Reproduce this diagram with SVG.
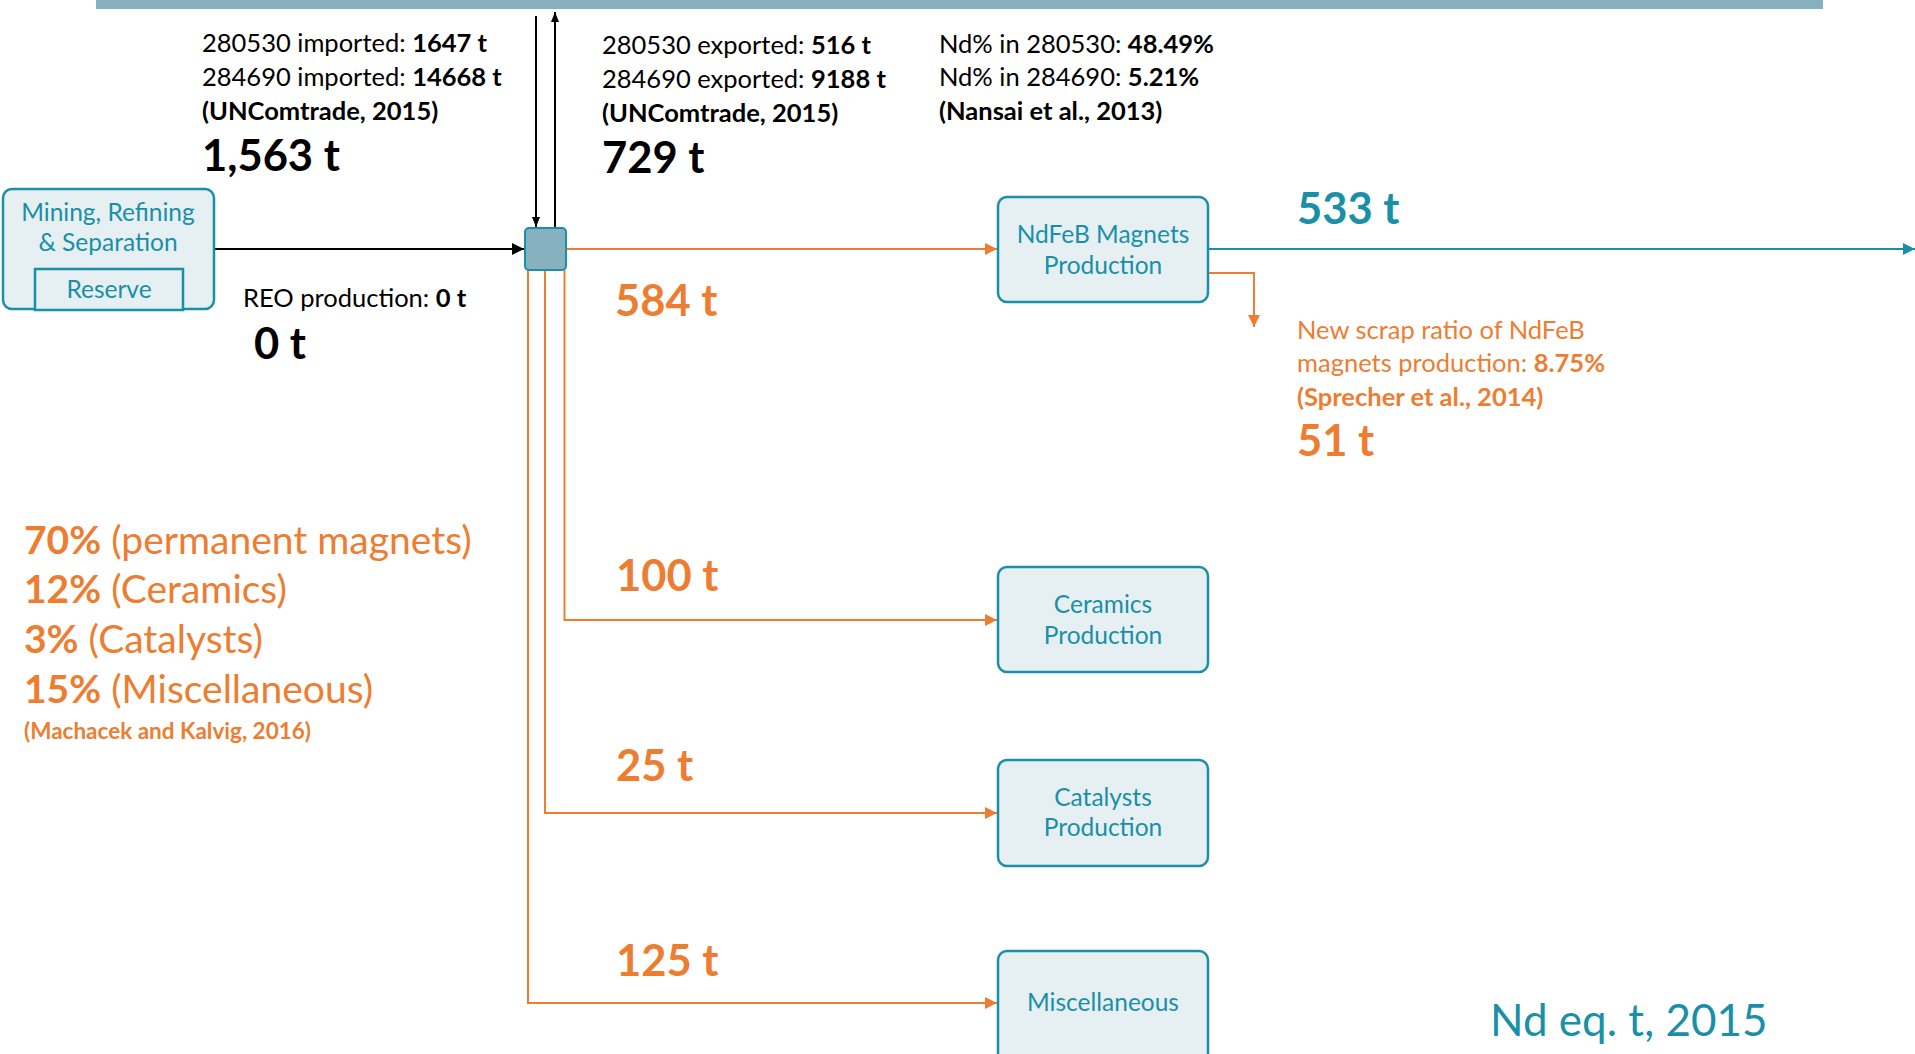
<svg xmlns="http://www.w3.org/2000/svg" width="1915" height="1054" viewBox="0 0 1915 1054">
<defs>
<style>
.t{font-family:Lato,"Open Sans","Liberation Sans",sans-serif}
.sm{font-size:25.5px;fill:#000}
.big{font-size:43.5px;font-weight:bold}
.b{font-weight:bold}
.or{fill:#ED7D31}
.tl{fill:#1A8FA8}
.box{fill:#E6EFF2;stroke:#1A8FA8;stroke-width:2.5}
.lbl{font-size:24.5px;fill:#1A8FA8;text-anchor:middle}
.pc{font-size:39px;fill:#ED7D31}
.ln{fill:none;stroke-width:2}
</style>
<marker id="ab" markerUnits="userSpaceOnUse" markerWidth="14" markerHeight="14" refX="12" refY="6" orient="auto"><path d="M0,0 L12,6 L0,12 Z" fill="#000"/></marker>
<marker id="as" markerUnits="userSpaceOnUse" markerWidth="12" markerHeight="12" refX="10" refY="4" orient="auto"><path d="M0,0 L10,4 L0,8 Z" fill="#000"/></marker>
<marker id="ao" markerUnits="userSpaceOnUse" markerWidth="14" markerHeight="14" refX="12" refY="6" orient="auto"><path d="M0,0 L12,6 L0,12 Z" fill="#ED7D31"/></marker>
<marker id="at" markerUnits="userSpaceOnUse" markerWidth="14" markerHeight="14" refX="12" refY="6" orient="auto"><path d="M0,0 L12,6 L0,12 Z" fill="#1A8FA8"/></marker>
</defs>
<rect x="0" y="0" width="1915" height="1054" fill="#fff"/>
<rect id="topbar" x="96" y="0" width="1727" height="9" fill="#88B1C0"/>

<g id="connectors">
<line class="ln" x1="214" y1="249" x2="524" y2="249" stroke="#000" marker-end="url(#ab)"/>
<line class="ln" x1="536" y1="16" x2="536" y2="227" stroke="#000" stroke-width="1.5" marker-end="url(#as)"/>
<line class="ln" x1="555" y1="228" x2="555" y2="12" stroke="#000" stroke-width="1.5" marker-end="url(#as)"/>
<line class="ln" x1="566" y1="249" x2="997" y2="249" stroke="#ED7D31" marker-end="url(#ao)"/>
<polyline class="ln" points="564.5,270 564.5,620 997,620" stroke="#ED7D31" marker-end="url(#ao)"/>
<polyline class="ln" points="545,270 545,813 997,813" stroke="#ED7D31" marker-end="url(#ao)"/>
<polyline class="ln" points="528,270 528,1003 997,1003" stroke="#ED7D31" marker-end="url(#ao)"/>
<line class="ln" x1="1209" y1="249" x2="1915" y2="249" stroke="#1A8FA8" stroke-width="2.5" marker-end="url(#at)"/>
<polyline class="ln" points="1209,273 1254,273 1254,327" stroke="#ED7D31" marker-end="url(#ao)"/>
</g>

<g id="mining">
<rect class="box" x="3" y="189" width="211" height="120" rx="9"/>
<text class="t lbl" x="108" y="221">Mining, Refining</text>
<text class="t lbl" x="108" y="251">&amp; Separation</text>
</g>
<g id="reserve">
<rect x="35" y="269" width="148" height="41" fill="#E6EFF2" stroke="#1A8FA8" stroke-width="2.5"/>
<text class="t lbl" x="109" y="298">Reserve</text>
</g>
<g id="hub">
<rect x="525" y="228" width="41" height="42" rx="4" fill="#88B1C0" stroke="#1A8FA8" stroke-width="2"/>
</g>
<g id="ndfeb">
<rect class="box" x="998" y="197" width="210" height="105" rx="9"/>
<text class="t lbl" x="1103" y="243">NdFeB Magnets</text>
<text class="t lbl" x="1103" y="274">Production</text>
</g>
<g id="ceramics">
<rect class="box" x="998" y="567" width="210" height="105" rx="9"/>
<text class="t lbl" x="1103" y="613">Ceramics</text>
<text class="t lbl" x="1103" y="644">Production</text>
</g>
<g id="catalysts">
<rect class="box" x="998" y="760" width="210" height="106" rx="9"/>
<text class="t lbl" x="1103" y="806">Catalysts</text>
<text class="t lbl" x="1103" y="836">Production</text>
</g>
<g id="misc">
<rect class="box" x="998" y="951" width="210" height="115" rx="9"/>
<text class="t lbl" x="1103" y="1011">Miscellaneous</text>
</g>

<g id="labels">
<text class="t sm" x="202" y="52">280530 imported: <tspan class="b">1647 t</tspan></text>
<text class="t sm" x="202" y="86">284690 imported: <tspan class="b">14668 t</tspan></text>
<text class="t sm b" x="202" y="120">(UNComtrade, 2015)</text>
<text class="t big" x="202" y="171">1,563 t</text>

<text class="t sm" x="602" y="54">280530 exported: <tspan class="b">516 t</tspan></text>
<text class="t sm" x="602" y="88">284690 exported: <tspan class="b">9188 t</tspan></text>
<text class="t sm b" x="602" y="122">(UNComtrade, 2015)</text>
<text class="t big" x="602" y="173">729 t</text>

<text class="t sm" x="939" y="53">Nd% in 280530: <tspan class="b">48.49%</tspan></text>
<text class="t sm" x="939" y="86">Nd% in 284690: <tspan class="b">5.21%</tspan></text>
<text class="t sm b" x="939" y="120">(Nansai et al., 2013)</text>

<text class="t sm" x="243" y="307">REO production: <tspan class="b">0 t</tspan></text>
<text class="t big" x="254" y="359">0 t</text>

<text class="t big or" x="615" y="316">584 t</text>
<text class="t big or" x="616" y="591">100 t</text>
<text class="t big or" x="616" y="781">25 t</text>
<text class="t big or" x="616" y="976">125 t</text>

<text class="t big tl" x="1297" y="224">533 t</text>

<text class="t sm or" x="1297" y="339">New scrap ratio of NdFeB</text>
<text class="t sm or" x="1297" y="372">magnets production: <tspan class="b">8.75%</tspan></text>
<text class="t sm or b" x="1297" y="406">(Sprecher et al., 2014)</text>
<text class="t big or" x="1297" y="456">51 t</text>

<text class="t pc" x="24" y="554"><tspan class="b">70%</tspan> (permanent magnets)</text>
<text class="t pc" x="24" y="603"><tspan class="b">12%</tspan> (Ceramics)</text>
<text class="t pc" x="24" y="653"><tspan class="b">3%</tspan> (Catalysts)</text>
<text class="t pc" x="24" y="703"><tspan class="b">15%</tspan> (Miscellaneous)</text>
<text class="t or b" x="24" y="739" font-size="22.5">(Machacek and Kalvig, 2016)</text>

<text class="t tl" x="1490" y="1036" font-size="44">Nd eq. t, 2015</text>
</g>
</svg>
